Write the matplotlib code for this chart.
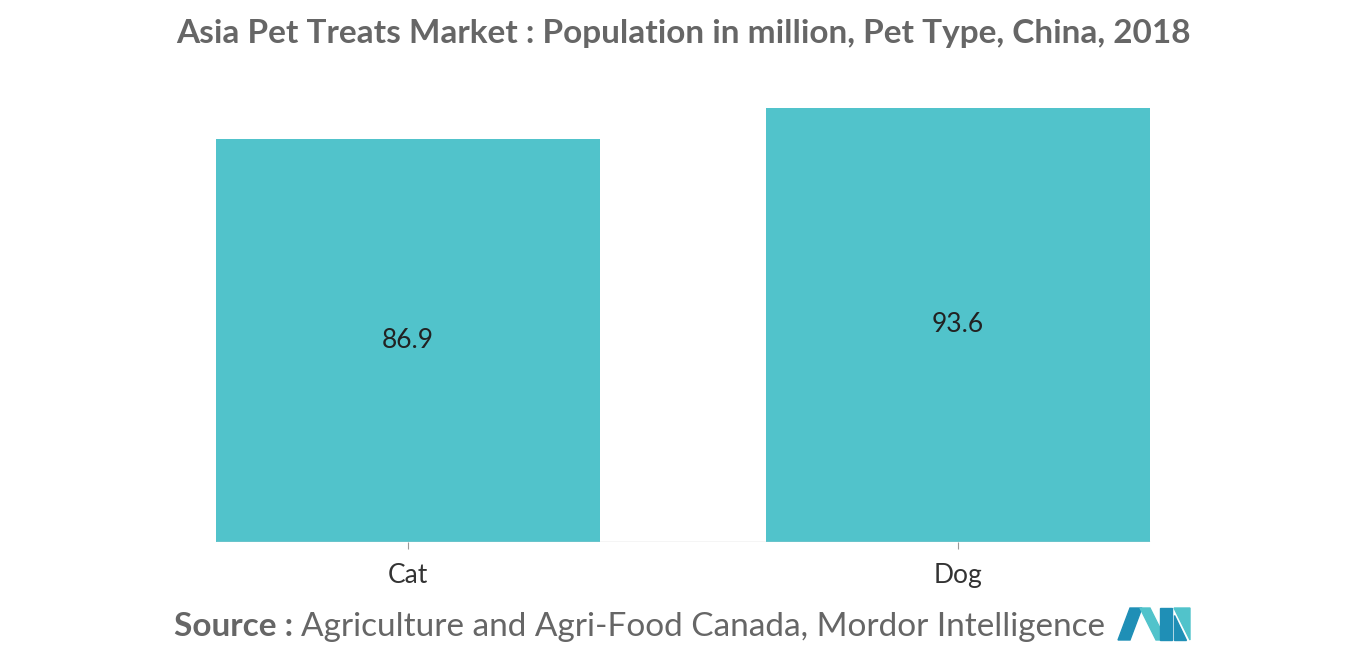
import matplotlib.pyplot as plt
from matplotlib.patches import Polygon

categories = ['Cat', 'Dog']
values = [86.9, 93.6]
labels = ['86.9', '93.6']

W, H = 1366, 655
fig = plt.figure(figsize=(W / 100, H / 100), dpi=100)
ax = fig.add_axes([133 / W, 1 - 542 / H, 1100 / W, (542 - 108) / H])
bw = 384 / 550
ax.bar(range(len(categories)), values, width=bw, color='#51C3CB')
ax.set_xlim(-0.5, 1.5)
ax.set_ylim(0, max(values))
ax.hlines(0, -bw / 2, 1 + bw / 2, color='#cccccc', lw=1)
for i, (v, t) in enumerate(zip(values, labels)):
    ax.text(i, v / 2, t, ha='center', va='center', fontsize=19, color='#222222', family='Lato')
ax.set_xticks(range(len(categories)))
ax.set_xticklabels(categories, fontsize=19, color='#333333', family='Lato')
ax.tick_params(axis='x', length=5, color='#999999', pad=10)
ax.set_yticks([])
for s in ax.spines.values():
    s.set_visible(False)

fig.text(0.5, 1 - 33 / H, 'Asia Pet Treats Market : Population in million, Pet Type, China, 2018',
         ha='center', va='center', fontsize=24, fontweight='bold', color='#666666', family='Lato')
fig.text(174 / W, 1 - 627 / H, 'Source :', ha='left', va='center', fontsize=24, fontweight='bold',
         color='#666666', family='Lato')
fig.text(301 / W, 1 - 627 / H, 'Agriculture and Agri-Food Canada, Mordor Intelligence', ha='left',
         va='center', fontsize=24, color='#666666', family='Lato')

# logo
def poly(pts, c):
    fig.add_artist(Polygon([(x / W, 1 - y / H) for x, y in pts], closed=True,
                           transform=fig.transFigure, color=c))
poly([(1118, 640), (1130, 608), (1142, 608), (1130, 640)], '#1F8FB6')
poly([(1140, 608), (1156, 640), (1166, 640), (1150, 608)], '#51C3CB')
poly([(1160, 608), (1172, 608), (1172, 640), (1160, 640)], '#1F8FB6')
poly([(1174, 608), (1190, 640), (1190, 608)], '#51C3CB')
poly([(1174, 615), (1174, 640), (1186, 640)], '#1F8FB6')

fig.savefig('out.png', dpi=100)
